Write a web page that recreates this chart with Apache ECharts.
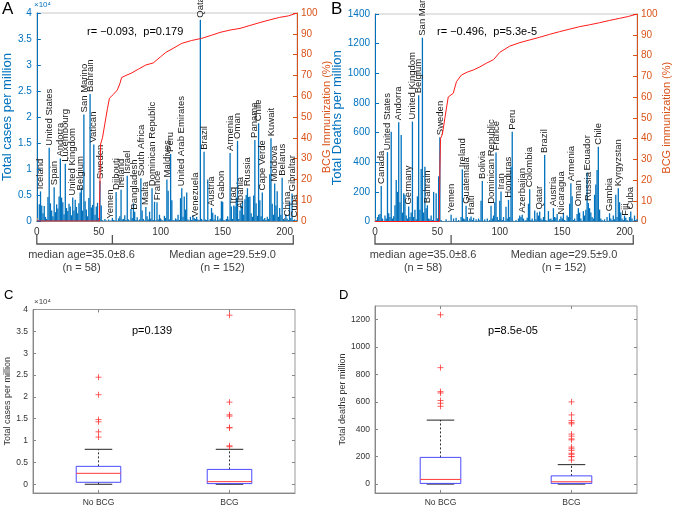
<!DOCTYPE html>
<html><head><meta charset="utf-8">
<script src="https://cdn.jsdelivr.net/npm/echarts@6/dist/echarts.min.js"></script>
<style>html,body{margin:0;padding:0;background:#fff}#c{width:676px;height:507px}</style>
</head><body><div id="c"></div>
<script>
// ---------- DATA ----------
// Panel A: total cases per million, countries sorted by BCG immunization (index 1..210)
const casesA = [
 200,3200,5700,3000,1500,2900,800,400,4600,14100,
 3400,2000,900,6500,1700,3200,2400,4700,12000,4500,
 3600,1300,11000,2500,1900,3300,2800,1100,4500,2000,
 4100,2700,1500,3400,5500,6400,2000,20500,3800,2200,
 900,4400,24400,2600,3100,14700,1200,2800,3500,600,
 7700,3000,150,50,400,100,30,300,60,80,
 600,200,100,5600,40,500,900,6000,300,400,
 1100,200,8700,300,100,2300,600,3400,1800,200,
 700,100,300,8200,2000,400,100,2700,900,300,
 1800,500,6300,200,3700,100,3600,300,1200,400,
 200,50,1000,600,8000,5800,300,12900,4000,200,
 100,500,300,1200,200,4400,6300,800,4700,2200,
 5500,300,100,800,200,1100,600,400,800,300,
 200,38700,400,100,13300,300,200,8000,100,400,
 2500,1600,300,1200,100,900,200,500,3800,3700,
 200,100,400,900,300,13100,2800,400,3000,2800,
 4500,15400,400,2000,3000,3900,1200,4200,5000,6300,
 4600,4700,1500,800,4900,15600,3400,1000,18800,4000,
 900,5500,300,600,200,800,400,9000,15900,3300,
 1200,7200,3000,5700,800,2500,1200,8300,400,200,
 1300,500,200,3700,600,5300,200,300,100,200
];
const labelIdxA = [3,10,14,19,23,29,35,38,43,46,51,59,64,68,73,79,84,88,93,97,105,108,117,128,132,135,141,149,156,159,162,164,170,176,179,182,189,192,198,202,206,208];
const labelNamesA = ['Iceland','United States','Spain','Andorra','Luxembourg','United Kingdom','Belgium','San Marino','Bahrain','Vatican','Sweden','Yemen','Djibouti','Ireland','Israel','Bangladesh','South Africa','Malta','Dominican Republic','France','Maldives','Peru','United Arab Emirates','Venezuela','Qatar','Brazil','Austria','Gabon','Armenia','Iraq','Oman','Albania','Russia','Panama','Chile','Cape Verde','Kuwait','Moldova','Belarus','China','Gibraltar','Cuba'];
// BCG immunization (%) curve, [country index, %]
const bcgA = [[0,0],[50.5,0],[51,20],[51.5,37],[53,40],[55,47],[57,54],[58.6,59],[62,61],[65,63],[67,66],[68.5,69],[72,70],[76,71],[82,73],[88,75],[94,76],[100,79],[104,81],[110,83],[117,85.4],[125,86.8],[133,87.8],[141,89.3],[148,90.7],[156,91.8],[164,92.6],[172,94],[180,95.4],[188,96.7],[196,97.9],[203,98.6],[210,100]];

// Panel B: total deaths per million
const deathsB = [
 10,30,45,50,240,20,5,40,20,468,
 55,30,606,20,35,110,280,200,670,130,
 584,60,190,180,40,20,101,30,60,674,
 30,80,15,170,852,80,355,1240,60,370,
 90,110,20,15,40,10,200,5,190,20,
 305,569,10,3,2,1,15,2,5,1,
 45,2,20,1,25,3,10,1,30,353,
 20,15,106,30,5,20,34,10,25,3,
 15,5,20,8,140,274,5,15,2,20,
 4,10,106,20,40,130,465,30,10,140,
 202,10,30,5,100,20,146,30,370,606,
 5,2,10,3,20,40,30,45,20,5,
 10,25,120,218,10,20,5,75,15,60,
 40,67,20,10,30,449,10,5,70,15,
 20,10,90,30,25,50,5,15,34,20,
 60,10,5,40,30,120,258,170,10,20,
 5,50,90,60,20,5,70,40,80,330,
 124,90,60,30,20,180,250,348,505,80,
 20,10,5,15,3,30,5,56,20,10,
 40,15,180,30,225,130,60,20,10,40,
 25,10,5,30,67,20,5,40,10,15
];
const labelIdxB = [5,10,19,27,30,35,38,42,52,61,70,73,77,86,93,97,101,107,110,118,124,132,136,143,149,157,163,170,171,179,188,195,201,205];
const labelNamesB = ['Canada','United States','Andorra','Germany','United Kingdom','Belgium','San Marino','Bahrain','Sweden','Yemen','Ireland','Guatemala','Haiti','Bolivia','Dominican Republic','France','Iran','Honduras','Peru','Azerbaijan','Colombia','Qatar','Brazil','Austria','Nicaragua','Armenia','Oman','Ecuador','Russia','Chile','Gambia','Kyrgyzstan','Fiji','Cuba'];
const bcgB = [[0,0],[51.5,0],[52,25],[52.5,40],[54,42],[56,49.8],[58.7,60],[62.7,61.8],[65.3,67.4],[69.3,70.6],[74,72],[78.7,73],[84,74.5],[89.3,76.3],[95,78],[100,81.5],[108,84.5],[116,86.2],[124,87.5],[132,88.8],[140,90.2],[148,91.5],[156,92.7],[164,93.9],[172,94.8],[180,95.8],[188,96.9],[196,97.9],[203,98.8],[210,100]];

// Tick labels
const xTicksAB = [0,50,100,150,200];
const yTicksCases = [0,5000,10000,15000,20000,25000,30000,35000,40000];
const yTicksDeaths = [0,200,400,600,800,1000,1200];
const groups = ['No BCG','BCG'];
const bracketX = [0,61,207];

// Panel C boxplot stats [min, q1, median, q3, max] and outliers (cases per million)
const casesNoBCGStats = [0,450,2500,4100,8000];
const casesBCGStats = [0,150,600,3400,8000];
const casesNoBCGOut = [24500,20500,14800,14300,12000,10800];
const casesBCGOut = [38700,18800,15900,15600,13000,12900,8800,8600];
// Panel D (deaths per million)
const deathsNoBCGStats = [0,5,34,195,467];
const deathsBCGStats = [0,5,17,60,142];
const deathsNoBCGOut = [1236,850,675,665,610,590,568];
const deathsBCGOut = [600,505,463,449,440,365,350,330,323,270,258,246,225,217,202,200,175];

// ---------- CHART ----------
const FF = '"Liberation Sans", Arial, Helvetica, sans-serif';
const BLUE = '#0072BD', ORANGE = '#D95319';
const chart = echarts.init(document.getElementById('c'), null, {renderer:'canvas'});

function barData(vals, idx, names){
  return vals.map((v,i)=>{
    const u = i+1; const k = idx.indexOf(u);
    if(k>=0) return {value:[u,v], label:{show:true, formatter:names[k]}};
    return [u,v];
  });
}
function boxRender(boxFrac, capFrac){
  return function(params, api){
    const x = api.value(0);
    const lo = api.coord([x, api.value(1)]), q1 = api.coord([x, api.value(2)]),
          md = api.coord([x, api.value(3)]), q3 = api.coord([x, api.value(4)]),
          hi = api.coord([x, api.value(5)]);
    const band = api.size([1,0])[0];
    const bw = band*boxFrac, cw = band*capFrac, cx = lo[0];
    const dash = {stroke:'#333', lineWidth:1, lineDash:[2,2]};
    const solid = {stroke:'#222', lineWidth:1};
    return {type:'group', children:[
      {type:'line', shape:{x1:cx,y1:q3[1],x2:cx,y2:hi[1]}, style:dash},
      {type:'line', shape:{x1:cx,y1:lo[1],x2:cx,y2:q1[1]}, style:dash},
      {type:'line', shape:{x1:cx-cw/2,y1:hi[1],x2:cx+cw/2,y2:hi[1]}, style:solid},
      {type:'line', shape:{x1:cx-cw/2,y1:lo[1],x2:cx+cw/2,y2:lo[1]}, style:solid},
      {type:'rect', shape:{x:cx-bw/2,y:q3[1],width:bw,height:q1[1]-q3[1]}, style:{fill:'none',stroke:'#4a4aff',lineWidth:1}},
      {type:'line', shape:{x1:cx-bw/2,y1:md[1],x2:cx+bw/2,y2:md[1]}, style:{stroke:'#ff3a3a',lineWidth:1}}
    ]};
  };
}
const plusSym = 'path://M0,5L10,5M5,0L5,10';
function outData(arr, c){ return arr.map(v=>[c,v]); }

const barLabel = {show:false, position:'top', rotate:90, align:'left', verticalAlign:'middle', distance:2, fontSize:9.5, color:'#1a1a1a', fontFamily:FF};
const plain = v => String(v);
const f1e4 = v => String(Math.round(v/1000)/10);

function abX(gi){
  return {gridIndex:gi, type:'value', min:0, max:210,
    axisLine:{show:true, onZero:false, lineStyle:{color:'#8c8c8c'}},
    axisTick:{show:true, inside:true, length:3, customValues:xTicksAB, lineStyle:{color:'#8c8c8c'}},
    axisLabel:{fontSize:10, color:'#333', margin:6, customValues:xTicksAB, formatter:plain, fontFamily:FF},
    splitLine:{show:false}};
}
function leftY(gi, max, interval, fmt, name, gap){
  return {gridIndex:gi, type:'value', position:'left', min:0, max:max, interval:interval,
    axisLine:{show:true, onZero:false, lineStyle:{color:BLUE}},
    axisTick:{show:true, inside:true, length:4, lineStyle:{color:BLUE}},
    axisLabel:{color:BLUE, fontSize:10, margin:5, formatter:fmt, fontFamily:FF},
    splitLine:{show:false}, name:name, nameLocation:'middle', nameGap:gap,
    nameTextStyle:{color:BLUE, fontSize:13, fontFamily:FF}};
}
function rightY(gi, name){
  return {gridIndex:gi, type:'value', position:'right', min:0, max:100, interval:10,
    axisLine:{show:true, onZero:false, lineStyle:{color:ORANGE}},
    axisTick:{show:true, inside:true, length:4, lineStyle:{color:ORANGE}},
    axisLabel:{color:ORANGE, fontSize:10, margin:4, formatter:plain, fontFamily:FF},
    splitLine:{show:false}, name:name, nameLocation:'middle', nameGap:24,
    nameTextStyle:{color:ORANGE, fontSize:11, fontFamily:FF}};
}
function boxX(gi, top){
  return {gridIndex:gi, type:'category', data:groups, position: top?'top':'bottom',
    axisLine:{show:!top, onZero:false, lineStyle:{color:'#888'}},
    axisTick:{show:true, inside:true, alignWithLabel:true, length:3, lineStyle:{color:'#888'}},
    axisLabel:{show:!top, fontSize:8.5, color:'#333', margin:5, fontFamily:FF},
    splitLine:{show:false}};
}
function boxY(gi, min, max, ticks, fmt, name, gap, right){
  return {gridIndex:gi, type:'value', position: right?'right':'left', min:min, max:max,
    axisLine:{show:!right, onZero:false, lineStyle:{color:'#888'}},
    axisTick:{show:true, inside:true, length:3, customValues:ticks, lineStyle:{color:'#888'}},
    axisLabel:{show:!right, fontSize:8.5, color:'#333', margin:5, customValues:ticks, formatter:fmt, fontFamily:FF},
    splitLine:{show:false}, name: right?'':name, nameLocation:'middle', nameGap:gap,
    nameTextStyle:{color:'#333', fontSize:9, fontFamily:FF}};
}

const option = {
  animation:false,
  textStyle:{fontFamily:FF},
  grid:[
    {left:33, top:13, width:264, height:208, show:true, borderColor:'#c8c8c8', borderWidth:1, backgroundColor:'transparent'},
    {left:375, top:14, width:262, height:207.5, show:true, borderColor:'#c8c8c8', borderWidth:1, backgroundColor:'transparent'},
    {left:33, top:309.5, width:262, height:184, show:true, borderColor:'#999', borderWidth:1, backgroundColor:'transparent'},
    {left:375, top:306, width:262, height:187.5, show:true, borderColor:'#999', borderWidth:1, backgroundColor:'transparent'}
  ],
  xAxis:[ abX(0), abX(1), boxX(2,false), boxX(3,false), boxX(2,true), boxX(3,true) ],
  yAxis:[
    leftY(0, 40000, 5000, f1e4, 'Total cases per million', 18),
    rightY(0, 'BCG Immunization (%)'),
    leftY(1, 1400, 200, plain, 'Total Deaths per million', 27),
    rightY(1, 'BCG immunization (%)'),
    boxY(2, -2000, 40000, yTicksCases, f1e4, 'Total cases per million', 18, false),
    boxY(3, -65, 1300, yTicksDeaths, plain, 'Total deaths per million', 27, false),
    boxY(2, -2000, 40000, yTicksCases, plain, '', 0, true),
    boxY(3, -65, 1300, yTicksDeaths, plain, '', 0, true)
  ],
  series:[
    {type:'bar', xAxisIndex:0, yAxisIndex:0, barWidth:1.3, itemStyle:{color:BLUE}, label:barLabel, data:barData(casesA, labelIdxA, labelNamesA)},
    {type:'line', xAxisIndex:0, yAxisIndex:1, showSymbol:false, symbol:'none', lineStyle:{color:'#ff1a1a', width:1}, data:bcgA, z:5},
    {type:'bar', xAxisIndex:1, yAxisIndex:2, barWidth:1.3, itemStyle:{color:BLUE}, label:barLabel, data:barData(deathsB, labelIdxB, labelNamesB)},
    {type:'line', xAxisIndex:1, yAxisIndex:3, showSymbol:false, symbol:'none', lineStyle:{color:'#ff1a1a', width:1}, data:bcgB, z:5},
    {type:'custom', xAxisIndex:2, yAxisIndex:4, renderItem:boxRender(0.34,0.21), encode:{x:0, y:[1,2,3,4,5]},
      data:[[0].concat(casesNoBCGStats), [1].concat(casesBCGStats)]},
    {type:'scatter', xAxisIndex:2, yAxisIndex:4, symbol:plusSym, symbolSize:6, itemStyle:{color:'none', borderColor:'#ff3a3a', borderWidth:1},
      data:outData(casesNoBCGOut,0).concat(outData(casesBCGOut,1))},
    {type:'custom', xAxisIndex:3, yAxisIndex:5, renderItem:boxRender(0.31,0.21), encode:{x:0, y:[1,2,3,4,5]},
      data:[[0].concat(deathsNoBCGStats), [1].concat(deathsBCGStats)]},
    {type:'scatter', xAxisIndex:3, yAxisIndex:5, symbol:plusSym, symbolSize:6, itemStyle:{color:'none', borderColor:'#ff3a3a', borderWidth:1},
      data:outData(deathsNoBCGOut,0).concat(outData(deathsBCGOut,1))}
  ]
};
chart.setOption(option);

// ---------- ANNOTATIONS ----------
function txt(x, y, text, size, color, align, valign){
  return {type:'text', x:x, y:y, z:100, style:{text:text, fontSize:size, fill:color||'#000', align:align||'left', verticalAlign:valign||'top', fontFamily:FF}};
}
const g = [
  txt(2, 1, 'A', 17, '#000'),
  txt(331, 1, 'B', 17, '#000'),
  txt(4, 289, 'C', 13, '#000'),
  txt(339, 289, 'D', 13, '#000'),
  txt(34, 1, '×10⁴', 8, BLUE),
  txt(34, 298, '×10⁴', 8, '#444'),
  txt(87, 32, 'r= \u22120.093,  p=0.179', 11, '#000', 'left', 'middle'),
  txt(437, 32, 'r= \u22120.496,  p=5.3e-5', 11, '#000', 'left', 'middle'),
  txt(152, 331, 'p=0.139', 11, '#000', 'center', 'middle'),
  txt(513, 331, 'p=8.5e-05', 11, '#000', 'center', 'middle')
];
const bracketTexts = [
  [0, 81.5, 222.5], [1, 423, 564]
];
[[0,0],[1,1]].forEach(([xi, k])=>{
  const px = bracketX.map(v=>chart.convertToPixel({xAxisIndex:xi}, v));
  const yb = 244, yt = 235;
  g.push({type:'polyline', z:100, shape:{points:[[px[0],yt],[px[0],yb],[px[2],yb],[px[2],yt]]}, style:{stroke:'#555', lineWidth:1.3, fill:null}});
  g.push({type:'line', z:100, shape:{x1:px[1],y1:yt,x2:px[1],y2:yb}, style:{stroke:'#555', lineWidth:1.3}});
  const c = bracketTexts[k];
  g.push(txt(c[1], 255, 'median age=35.0±8.6', 11, '#404040', 'center', 'middle'));
  g.push(txt(c[1], 268, '(n = 58)', 11, '#404040', 'center', 'middle'));
  g.push(txt(c[2], 255, 'Median age=29.5±9.0', 11, '#404040', 'center', 'middle'));
  g.push(txt(c[2], 268, '(n = 152)', 11, '#404040', 'center', 'middle'));
});
chart.setOption({graphic:{elements:g}});
</script></body></html>
